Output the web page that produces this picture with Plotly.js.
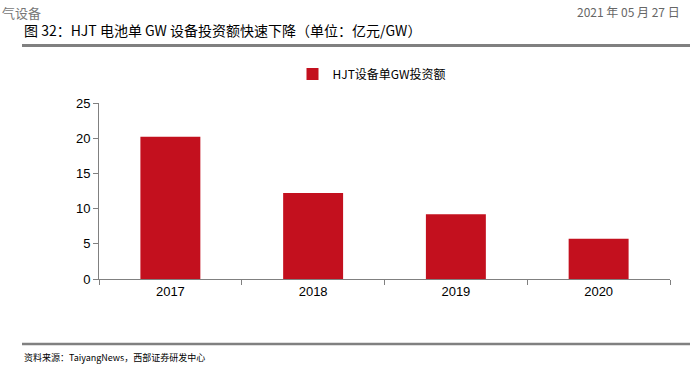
<!DOCTYPE html>
<html>
<head>
<meta charset="utf-8">
<script src="https://cdn.plot.ly/plotly-3.0.1.min.js"></script>
<style>html,body{margin:0;padding:0;background:#fff;}#chart{width:699px;height:386px;}</style>
</head>
<body>
<div id="chart"></div>
<script>
const categories = ['2017', '2018', '2019', '2020'];
const investment = [20.2, 12.2, 9.2, 5.7];
const seriesName = 'HJT设备单GW投资额';
const titleText = '图 32：HJT 电池单 GW 设备投资额快速下降（单位：亿元/GW）';
const sourceText = '资料来源：TaiyangNews，西部证券研发中心';
const headerLeft = '气设备';
const headerRight = '2021 年 05 月 27 日';

const W = 699, H = 386, L = 99, R = 29, T = 103, B = 107;
const pw = W - L - R, ph = H - T - B;
const px = x => (x - L) / pw;
const py = y => (H - B - y) / ph;
const cjk = '"Noto Sans CJK SC", "DejaVu Sans", sans-serif';

const trace = {
  type: 'bar', x: categories, y: investment, name: seriesName,
  marker: {color: '#C3101E'}, showlegend: true
};

const layout = {
  width: W, height: H,
  margin: {l: L, r: R, t: T, b: B},
  paper_bgcolor: '#fff', plot_bgcolor: '#fff',
  bargap: 0.58,
  font: {family: '"Liberation Sans", Arial, sans-serif', size: 13, color: '#000'},
  xaxis: {
    type: 'category', showgrid: false, zeroline: false,
    showline: true, linecolor: '#808080', linewidth: 1,
    ticks: 'outside', ticklen: 5, tickcolor: '#808080', tickson: 'boundaries',
    tickfont: {size: 13, color: '#000'}
  },
  yaxis: {
    range: [0, 25], dtick: 5, showgrid: false, zeroline: false,
    showline: true, linecolor: '#808080', linewidth: 1,
    ticks: 'outside', ticklen: 5, tickcolor: '#808080',
    tickfont: {size: 13, color: '#000'}
  },
  legend: {
    orientation: 'h', x: px(372), xanchor: 'center', y: py(74), yanchor: 'middle',
    bgcolor: 'rgba(0,0,0,0)',
    font: {family: cjk, size: 12, color: '#000'}, itemwidth: 30
  },
  shapes: [
    {type: 'line', xref: 'paper', yref: 'paper', x0: px(22), x1: px(690), y0: py(45.5), y1: py(45.5), line: {color: '#808080', width: 3}},
    {type: 'line', xref: 'paper', yref: 'paper', x0: px(22), x1: px(690), y0: py(344), y1: py(344), line: {color: '#808080', width: 2.5}}
  ],
  annotations: [
    {xref: 'paper', yref: 'paper', x: px(22), y: py(30), xanchor: 'left', yanchor: 'middle', showarrow: false,
     text: titleText, font: {family: cjk, size: 14, color: '#000'}},
    {xref: 'paper', yref: 'paper', x: px(22), y: py(357), xanchor: 'left', yanchor: 'middle', showarrow: false,
     text: sourceText, font: {family: cjk, size: 9, color: '#000'}},
    {xref: 'paper', yref: 'paper', x: px(0), y: py(1), xanchor: 'left', yanchor: 'top', showarrow: false,
     text: headerLeft, font: {family: cjk, size: 13, color: '#777'}},
    {xref: 'paper', yref: 'paper', x: px(682), y: py(1), xanchor: 'right', yanchor: 'top', showarrow: false,
     text: headerRight, font: {family: cjk, size: 12, color: '#666'}}
  ]
};

Plotly.newPlot('chart', [trace], layout, {displayModeBar: false, staticPlot: true});
</script>
</body>
</html>
